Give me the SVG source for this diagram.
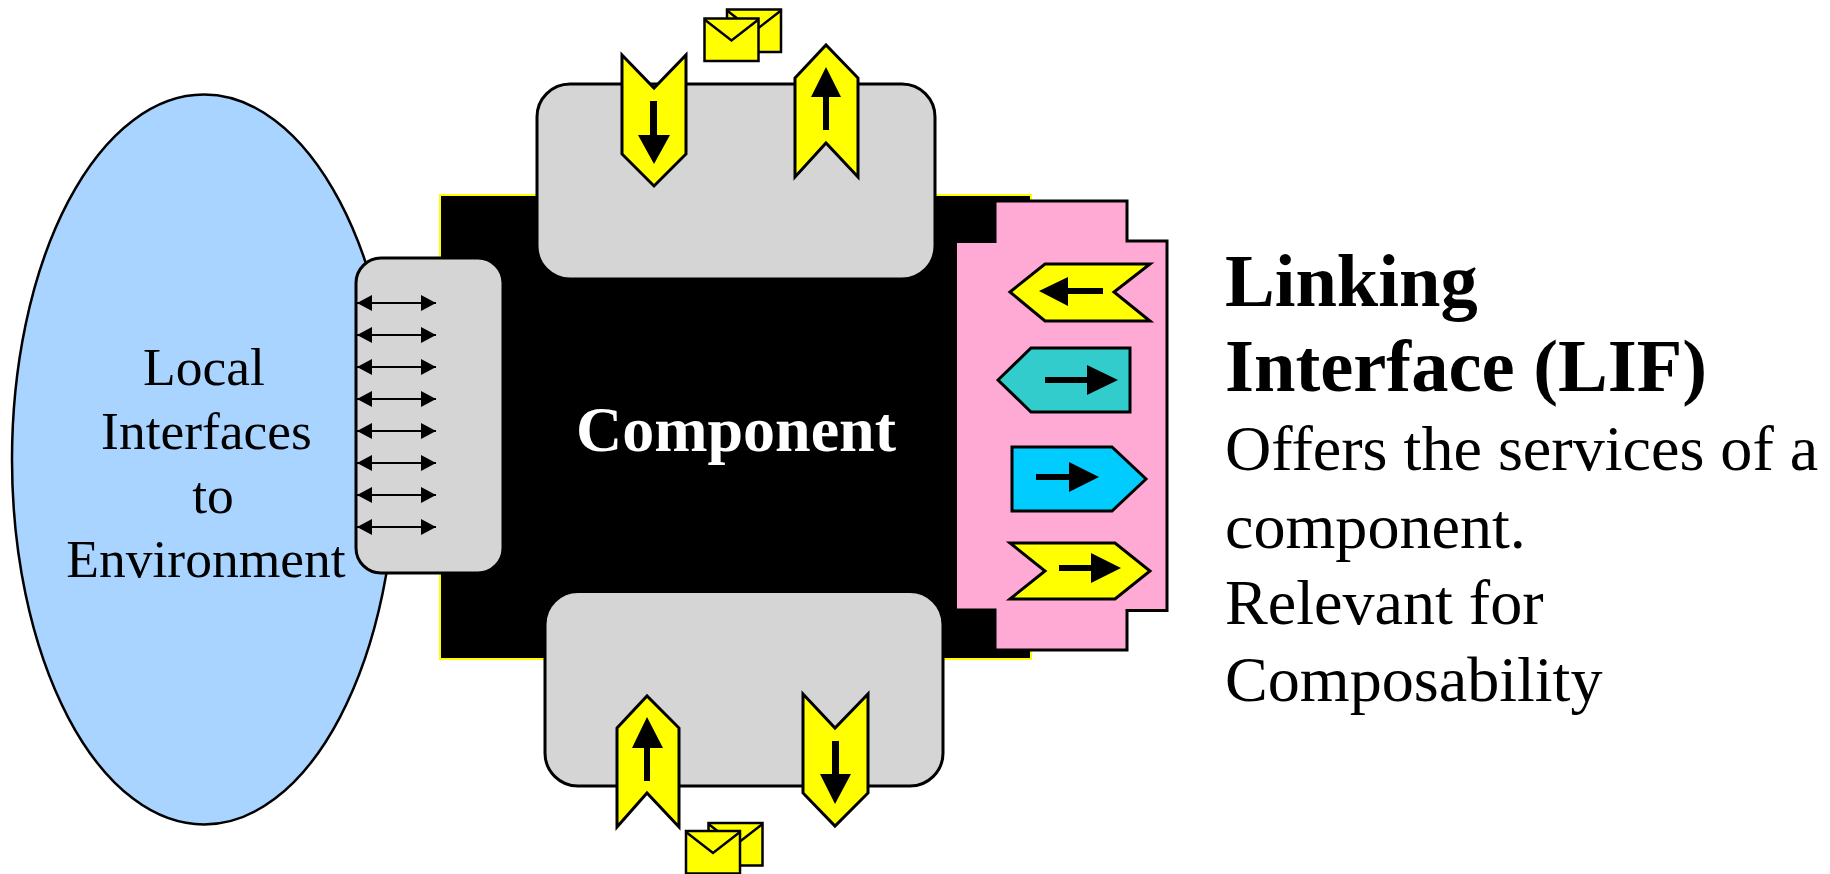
<svg xmlns="http://www.w3.org/2000/svg" width="1830" height="874" viewBox="0 0 1830 874">
<style>
.s{stroke:#000;stroke-width:3;stroke-linejoin:miter}
.g{fill:#d5d5d5}
.y{fill:#ffff00}
.e{fill:#ffff00;stroke:#000;stroke-width:2.5}
.a{fill:#000}
text{font-family:"Liberation Serif","Times New Roman",serif}
.n{font-size:53.5px;text-anchor:middle;fill:#000}
.h{font-size:74.5px;font-weight:bold;fill:#000}
.b{font-size:64.1px;fill:#000}
.l{stroke:#000;stroke-width:2;fill:none}
</style>
<defs>
<marker id="dbl" markerUnits="userSpaceOnUse" markerWidth="16" markerHeight="16" refX="15" refY="8" orient="auto-start-reverse"><path d="M0 0L15 8L0 16Z" fill="#000"/></marker>
<g id="env"><rect class="e" x="0" y="0" width="54" height="42.500"/><path class="e" style="fill:none" d="M0 1L27 22L54 1"/></g>
</defs>
<g id="ellipse"><ellipse cx="204" cy="459.500" rx="192" ry="365" fill="#a9d4ff" stroke="#000" stroke-width="2.500"/></g>
<g id="component"><rect x="440" y="195" width="591" height="464" fill="#000" stroke="#ffff00" stroke-width="2"/></g>
<g id="top-port">
<rect class="g" x="537" y="84" width="398" height="195" rx="33" stroke="#000" stroke-width="3"/>
<path class="s y" d="M622 55L654 88L686 55V154L654 186L622 154Z"/>
<path class="a" d="M650 101H657V135H670L654 164L638 135H650Z"/>
<path class="s y" d="M795 78L826 45L858 78V177L826 143L795 177Z"/>
<path class="a" d="M823 130H829V97H841L826 67L811 97H823Z"/>
<use href="#env" x="727" y="9.500"/><use href="#env" x="704.500" y="18.500"/>
</g>
<g id="bottom-port">
<rect class="g" x="545" y="591.500" width="398" height="194.500" rx="33" stroke="#000" stroke-width="3"/>
<path class="s y" d="M617 728L647 696L679 728V827L647 793L617 827Z"/>
<path class="a" d="M644 781H650V748H663L647 717L632 748H644Z"/>
<path class="s y" d="M803 694L835 728L868 694V793L835 826L803 793Z"/>
<path class="a" d="M832 741H839V774H851L835 804L820 774H832Z"/>
<use href="#env" x="708.500" y="823"/><use href="#env" x="686" y="831"/>
</g>
<g id="local-port"><rect class="g" x="356" y="258" width="147" height="315" rx="25" stroke="#000" stroke-width="3"/></g>
<g id="connectors">
<path class="l" marker-start="url(#dbl)" marker-end="url(#dbl)" d="M357 303H436"/>
<path class="l" marker-start="url(#dbl)" marker-end="url(#dbl)" d="M357 335H436"/>
<path class="l" marker-start="url(#dbl)" marker-end="url(#dbl)" d="M357 367H436"/>
<path class="l" marker-start="url(#dbl)" marker-end="url(#dbl)" d="M357 399H436"/>
<path class="l" marker-start="url(#dbl)" marker-end="url(#dbl)" d="M357 431H436"/>
<path class="l" marker-start="url(#dbl)" marker-end="url(#dbl)" d="M357 463H436"/>
<path class="l" marker-start="url(#dbl)" marker-end="url(#dbl)" d="M357 495H436"/>
<path class="l" marker-start="url(#dbl)" marker-end="url(#dbl)" d="M357 527H436"/>
</g>
<g id="lif">
<path d="M995 201H1127V241H1167V610.500H1127V650H995V610H955.500V241.500H995Z" fill="#ffaad5" stroke="#000" stroke-width="3"/>
<path class="s y" d="M1010 292L1045 264H1150L1114 292L1150 321H1045Z"/>
<path class="a" d="M1103 288V294H1068V306L1039 291L1068 277V288Z"/>
<path class="s" fill="#33cccc" d="M998 380L1031 348H1130V412H1031Z"/>
<path class="a" d="M1045 377H1087V365L1118 380L1087 395V383H1045Z"/>
<path class="s" fill="#00ccff" d="M1012 447H1112L1146 479L1112 511H1012Z"/>
<path class="a" d="M1036 474H1069V462L1099 477L1069 492V480H1036Z"/>
<path class="s y" d="M1010 543H1115L1150 571L1115 599H1010L1045 571Z"/>
<path class="a" d="M1059 565H1091V553L1121 568L1091 583V571H1059Z"/>
</g>
<g id="labels">
<text class="n" x="204" y="385">Local</text>
<text class="n" x="206.500" y="449">Interfaces</text>
<text class="n" x="213" y="513">to</text>
<text class="n" x="206" y="577">Environment</text>
<text x="736" y="451" font-size="64" font-weight="bold" fill="#fff" text-anchor="middle">Component</text>
<text class="h" x="1225" y="306">Linking</text>
<text class="h" x="1225" y="391">Interface (LIF)</text>
<text class="b" x="1225" y="470">Offers the services of a</text>
<text class="b" x="1225" y="548">component.</text>
<text class="b" x="1225" y="624">Relevant for</text>
<text class="b" x="1225" y="701">Composability</text>
</g>
</svg>
